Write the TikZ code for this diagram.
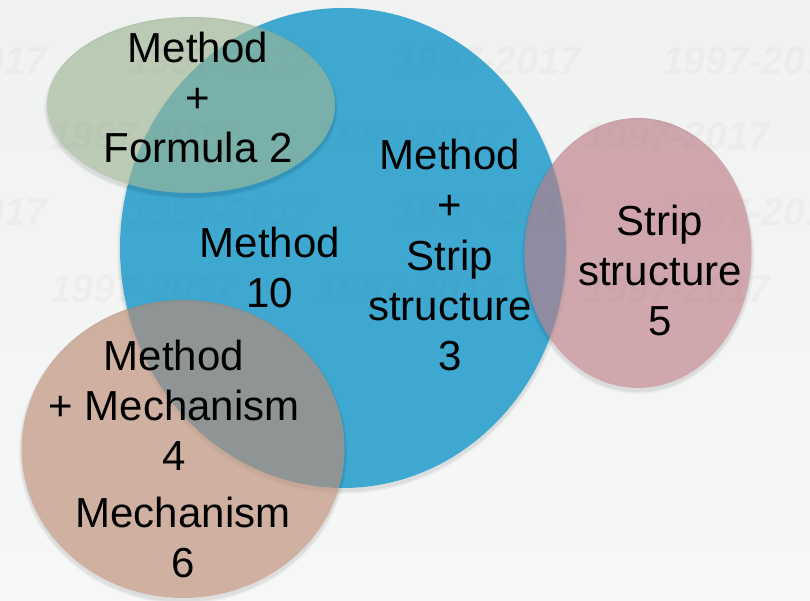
\documentclass[tikz,border=0pt]{standalone}
\usepackage{fontspec}
\setmainfont{Liberation Sans}
\usetikzlibrary{shapes.geometric}
\definecolor{bgtop}{RGB}{240,241,241}
\definecolor{bgbot}{RGB}{246,247,247}
\definecolor{wmark}{RGB}{120,120,120}
\definecolor{cblue}{RGB}{62,168,209}
\definecolor{cgreen}{RGB}{157,181,148}
\definecolor{cpink}{RGB}{189,124,133}
\definecolor{ctan}{RGB}{188,139,114}
\tikzset{
  blob/.style={ellipse, inner sep=0pt, draw=none},
  shad/.style={fill=black, opacity=0.018, even odd rule},
  wm/.style={anchor=base west, inner sep=0pt, text=wmark, text opacity=0.045, font=\fontsize{39}{39}\selectfont\bfseries\itshape},
  lbl/.style={anchor=base, inner sep=0pt, align=center, font=\fontsize{42}{50}\selectfont}
}
\newcommand\myshadow[4]{%
  \foreach \k in {1,...,5}{%
    \fill[shad] (#1,#2+3) ellipse [x radius=#3pt+\k*0.6pt, y radius=#4pt+\k*0.6pt]
                (#1,#2) ellipse [x radius=#3pt, y radius=#4pt];
  }%
}
\begin{document}
\begin{tikzpicture}[x=1pt,y=-1pt]
\useasboundingbox (0,0) rectangle (810,601);
\clip (0,0) rectangle (810,601);
\shade[top color=bgtop, bottom color=bgbot] (0,0) rectangle (810,601);
% circles
\myshadow{343}{248}{223}{240}
\node[blob, fill=cblue, minimum width=446pt, minimum height=480pt] (blue) at (343,248) {};
\myshadow{191}{105}{144}{88}
\node[blob, fill=cgreen, fill opacity=0.64, minimum width=288pt, minimum height=176pt] (green) at (191,105) {};
\myshadow{638}{253}{113.5}{135}
\node[blob, fill=cpink, fill opacity=0.64, minimum width=227pt, minimum height=270pt] (pink) at (638,253) {};
\myshadow{183}{449}{161.5}{149}
\node[blob, fill=ctan, fill opacity=0.64, minimum width=323pt, minimum height=298pt] (tan) at (183,449) {};
% watermarks
\foreach \r/\yy/\xo in {1/75/-139,2/150/50,3/226/-139,4/302/50}{
  \foreach \c in {0,1,2,3}{
    \node[wm] (w\r\c) at ({\xo+267*\c},\yy) {1997-2017};
  }
}
% labels
\node[lbl] (tMF) at (198,163) {Method\\+\\Formula 2};
\node[lbl] (tMS) at (450,370) {Method\\+\\Strip\\structure\\3};
\node[lbl] (tM) at (270,307) {Method\\10};
\node[lbl] (tS) at (660,335) {Strip\\structure\\5};
\node[lbl] (tMM) at (174,470) {Method\\+ Mechanism\\4};
\node[lbl] (tMe) at (183,577) {Mechanism\\6};
\end{tikzpicture}
\end{document}
